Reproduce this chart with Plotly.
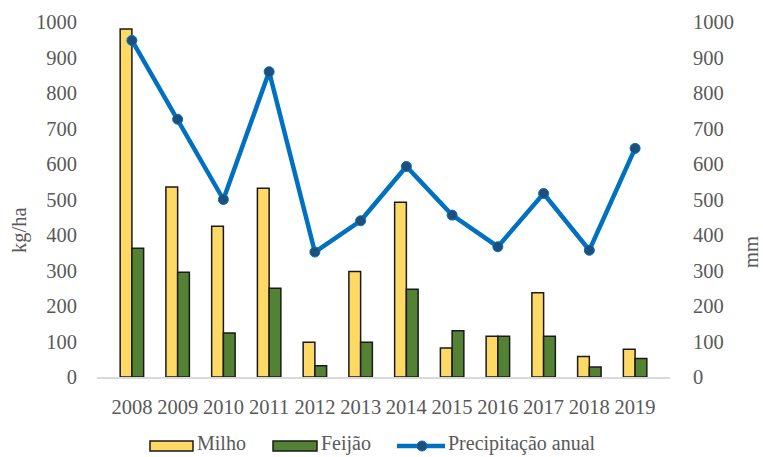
import plotly.graph_objects as go

anos = ["2008", "2009", "2010", "2011", "2012", "2013", "2014", "2015", "2016", "2017", "2018", "2019"]
milho = [980, 535, 425, 532, 98, 297, 492, 82, 115, 237, 58, 78]
feijao = [363, 295, 124, 250, 32, 98, 247, 130, 115, 115, 28, 52]
precipitacao = [948, 726, 500, 860, 352, 440, 593, 456, 367, 517, 357, 644]
ticks = [0, 100, 200, 300, 400, 500, 600, 700, 800, 900, 1000]

serif = "Liberation Serif, DejaVu Serif, serif"
gray = "#595959"
amarelo = "#FFD966"
verde = "#548235"
azul = "#0070C0"
azul_escuro = "#1F4E79"
contorno = "#1a1a1a"

W, H = 763, 457
L, R, T, B = 97, 93, 22, 80
pw, ph = W - L - R, H - T - B


def px_x(x):
    return (x - L) / pw


def px_y(y):
    return (H - B - y) / ph


fig = go.Figure()
fig.add_trace(go.Bar(
    x=anos, y=milho, name="Milho",
    marker=dict(color=amarelo, line=dict(color=contorno, width=1.5)),
))
fig.add_trace(go.Bar(
    x=anos, y=feijao, name="Feijão",
    marker=dict(color=verde, line=dict(color=contorno, width=1.5)),
))
fig.add_trace(go.Scatter(
    x=anos, y=precipitacao, name="Precipitação anual", yaxis="y2",
    mode="lines+markers",
    line=dict(color=azul, width=4.5),
    marker=dict(color=azul_escuro, size=10, line=dict(color=azul, width=1)),
))

# legend drawn below the plot area
shapes = []
annotations = []
leg_y = 446
txt_y = 443
leg_font = dict(family=serif, size=20, color=gray)
for x0, x1, cor, texto in [(150, 193, amarelo, "Milho"), (273, 317, verde, "Feijão")]:
    shapes.append(dict(type="rect", xref="paper", yref="paper",
                       x0=px_x(x0), x1=px_x(x1), y0=px_y(leg_y + 5), y1=px_y(leg_y - 5),
                       fillcolor=cor, line=dict(color=contorno, width=1.5)))
    annotations.append(dict(xref="paper", yref="paper", x=px_x(x1 + 3), y=px_y(txt_y),
                            xanchor="left", yanchor="middle", showarrow=False, text=texto,
                            borderpad=0, font=leg_font))
shapes.append(dict(type="line", xref="paper", yref="paper",
                   x0=px_x(397), x1=px_x(445), y0=px_y(leg_y), y1=px_y(leg_y),
                   line=dict(color=azul, width=4.5)))
shapes.append(dict(type="circle", xref="paper", yref="paper",
                   x0=px_x(417), x1=px_x(427), y0=px_y(leg_y + 5), y1=px_y(leg_y - 5),
                   fillcolor=azul_escuro, line=dict(color=azul, width=1)))
annotations.append(dict(xref="paper", yref="paper", x=px_x(447), y=px_y(txt_y),
                        xanchor="left", yanchor="middle", showarrow=False,
                        text="Precipitação anual", borderpad=0, font=leg_font))

# axis titles
annotations.append(dict(xref="paper", yref="paper", x=px_x(19), y=px_y(230),
                        xanchor="center", yanchor="middle", showarrow=False, textangle=-90,
                        text="kg/ha", font=dict(family=serif, size=20.5, color=gray)))
annotations.append(dict(xref="paper", yref="paper", x=px_x(751), y=px_y(252),
                        xanchor="center", yanchor="middle", showarrow=False, textangle=-90,
                        text="mm", font=dict(family=serif, size=20.5, color=gray)))

tick_font = dict(family=serif, size=20.5, color=gray)

fig.update_layout(
    width=W, height=H,
    margin=dict(l=L, r=R, t=T, b=B, autoexpand=False),
    paper_bgcolor="white", plot_bgcolor="white",
    barmode="group", bargap=0.487, bargroupgap=0,
    font=dict(family=serif, size=20.5, color=gray),
    showlegend=False,
    shapes=shapes,
    annotations=annotations,
    xaxis=dict(showline=True, linecolor="#D9D9D9", linewidth=1.5,
               ticks="outside", ticklen=11, tickcolor="rgba(0,0,0,0)",
               tickfont=tick_font, showgrid=False),
    yaxis=dict(range=[0, 1000], tickvals=ticks, showgrid=False, zeroline=False,
               ticks="outside", ticklen=15, tickcolor="rgba(0,0,0,0)",
               tickfont=tick_font),
    yaxis2=dict(range=[0, 1000], tickvals=ticks, overlaying="y", side="right",
                showgrid=False, zeroline=False,
                ticks="outside", ticklen=18, tickcolor="rgba(0,0,0,0)",
                tickfont=tick_font),
)

fig.write_html("out.html")
